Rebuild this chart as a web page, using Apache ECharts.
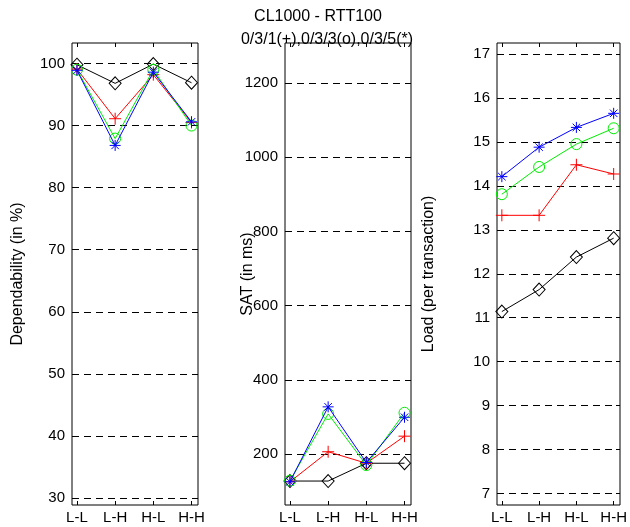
<!DOCTYPE html>
<html>
<head>
<meta charset="utf-8">
<script src="https://cdn.jsdelivr.net/npm/echarts@6/dist/echarts.min.js"></script>
<style>
  html, body { margin: 0; padding: 0; background: #fff; }
  #chart { width: 630px; height: 527px; }
</style>
</head>
<body>
<div id="chart"></div>
<script>
// Scenario labels along each x axis
const categories = ['L-L', 'L-H', 'H-L', 'H-H'];

// Dependability (in %)
const depBlack = [99.8, 96.8, 99.9, 96.9];
const depRed   = [99.1, 91.1, 98.2, 90.5];
const depGreen = [99.0, 87.9, 99.0, 90.0];
const depBlue  = [98.9, 86.8, 98.6, 90.6];

// SAT (in ms)
const satBlack = [127, 127, 175, 175];
const satRed   = [125, 206, 175, 248];
const satGreen = [128, 308, 170, 311];
const satBlue  = [125, 327, 177, 299];

// Load (per transaction)
const loadBlack = [11.14, 11.64, 12.38, 12.81];
const loadRed   = [13.33, 13.33, 14.48, 14.27];
const loadGreen = [13.81, 14.43, 14.95, 15.31];
const loadBlue  = [14.21, 14.88, 15.33, 15.65];

// Tick values
const depTicks  = [30, 40, 50, 60, 70, 80, 90, 100];
const satTicks  = [200, 400, 600, 800, 1000, 1200];
const loadTicks = [7, 8, 9, 10, 11, 12, 13, 14, 15, 16, 17];
const catTicks  = [1, 2, 3, 4];

const FONT = 'Liberation Sans, Arial, sans-serif';
const plusPath = 'path://M5,0L5,10M0,5L10,5';
const starPath = 'path://M5,0L5,10M0,5L10,5M1.6,1.6L8.4,8.4M1.6,8.4L8.4,1.6';

const styles = [
  { color: '#000000', symbol: 'diamond', size: [12, 13] },
  { color: '#ff0000', symbol: plusPath, size: 12 },
  { color: '#00ee00', symbol: 'circle', size: 11 },
  { color: '#0000ff', symbol: starPath, size: 11 }
];

const panels = [
  { left: 72,  name: 'Dependability (in %)',  nameGap: 46, min: 28.87, max: 103.3, ticks: depTicks,
    data: [depBlack, depRed, depGreen, depBlue] },
  { left: 285, name: 'SAT (in ms)',           nameGap: 29, min: 62.4,  max: 1308,  ticks: satTicks,
    data: [satBlack, satRed, satGreen, satBlue] },
  { left: 497, name: 'Load (per transaction)', nameGap: 60, min: 6.74, max: 17.25, ticks: loadTicks,
    data: [loadBlack, loadRed, loadGreen, loadBlue] }
];

const grids = [], xAxes = [], yAxes = [], series = [];

panels.forEach((p, i) => {
  grids.push({
    left: p.left, top: 43, width: 126, height: 462,
    show: true, borderColor: '#000', borderWidth: 1, backgroundColor: '#fff'
  });
  // bottom x axis with scenario labels
  xAxes.push({
    type: 'value', gridIndex: i, position: 'bottom', min: 0.87, max: 4.17,
    axisLine: { show: false },
    axisTick: { show: true, inside: true, length: 4, lineStyle: { color: '#000' }, customValues: catTicks },
    axisLabel: { color: '#000', fontFamily: FONT, fontSize: 15, margin: 5,
      customValues: catTicks, formatter: v => categories[Math.round(v) - 1] },
    splitLine: { show: false }
  });
  // top x axis: ticks only
  xAxes.push({
    type: 'value', gridIndex: i, position: 'top', min: 0.87, max: 4.17,
    axisLine: { show: false },
    axisTick: { show: true, inside: true, length: 4, lineStyle: { color: '#000' }, customValues: catTicks },
    axisLabel: { show: false },
    splitLine: { show: false }
  });
  // left y axis with labels and dashed grid lines
  yAxes.push({
    type: 'value', gridIndex: i, position: 'left', min: p.min, max: p.max,
    name: p.name, nameLocation: 'middle', nameGap: p.nameGap, nameMoveOverlap: false,
    nameTextStyle: { color: '#000', fontFamily: FONT, fontSize: 16 },
    axisLine: { show: false },
    axisTick: { show: true, inside: true, length: 4, lineStyle: { color: '#000' }, customValues: p.ticks },
    axisLabel: { color: '#000', fontFamily: FONT, fontSize: 15, margin: 7, customValues: p.ticks,
      formatter: v => String(Math.round(v)) },
    splitLine: { show: true, lineStyle: { color: '#000', width: 1, type: [7, 5] } }
  });
  // right y axis: ticks only
  yAxes.push({
    type: 'value', gridIndex: i, position: 'right', min: p.min, max: p.max,
    axisLine: { show: false },
    axisTick: { show: true, inside: true, length: 4, lineStyle: { color: '#000' }, customValues: p.ticks },
    axisLabel: { show: false },
    splitLine: { show: false }
  });

  p.data.forEach((vals, k) => {
    const st = styles[k];
    series.push({
      type: 'line',
      xAxisIndex: i * 2, yAxisIndex: i * 2,
      data: vals.map((v, j) => [j + 1, v]),
      symbol: st.symbol, symbolSize: st.size, showSymbol: true,
      lineStyle: { color: st.color, width: 1 },
      itemStyle: { color: 'rgba(0,0,0,0)', borderColor: st.color, borderWidth: 1 },
      emphasis: { disabled: true },
      silent: true,
      z: 2 + k
    });
  });
});

const chart = echarts.init(document.getElementById('chart'), null, { renderer: 'canvas' });
chart.setOption({
  animation: false,
  backgroundColor: '#fff',
  grid: grids,
  xAxis: xAxes,
  yAxis: yAxes,
  series: series,
  graphic: [
    { type: 'text', x: 318, y: 17, silent: true,
      style: { text: 'CL1000 - RTT100', align: 'center', verticalAlign: 'middle', font: '16px ' + FONT, fill: '#000' } },
    { type: 'text', x: 327, y: 40, silent: true, z: 100,
      style: { text: '0/3/1(+),0/3/3(o),0/3/5(*)', align: 'center', verticalAlign: 'middle', font: '16px ' + FONT, fill: '#000' } }
  ]
});
</script>
</body>
</html>
